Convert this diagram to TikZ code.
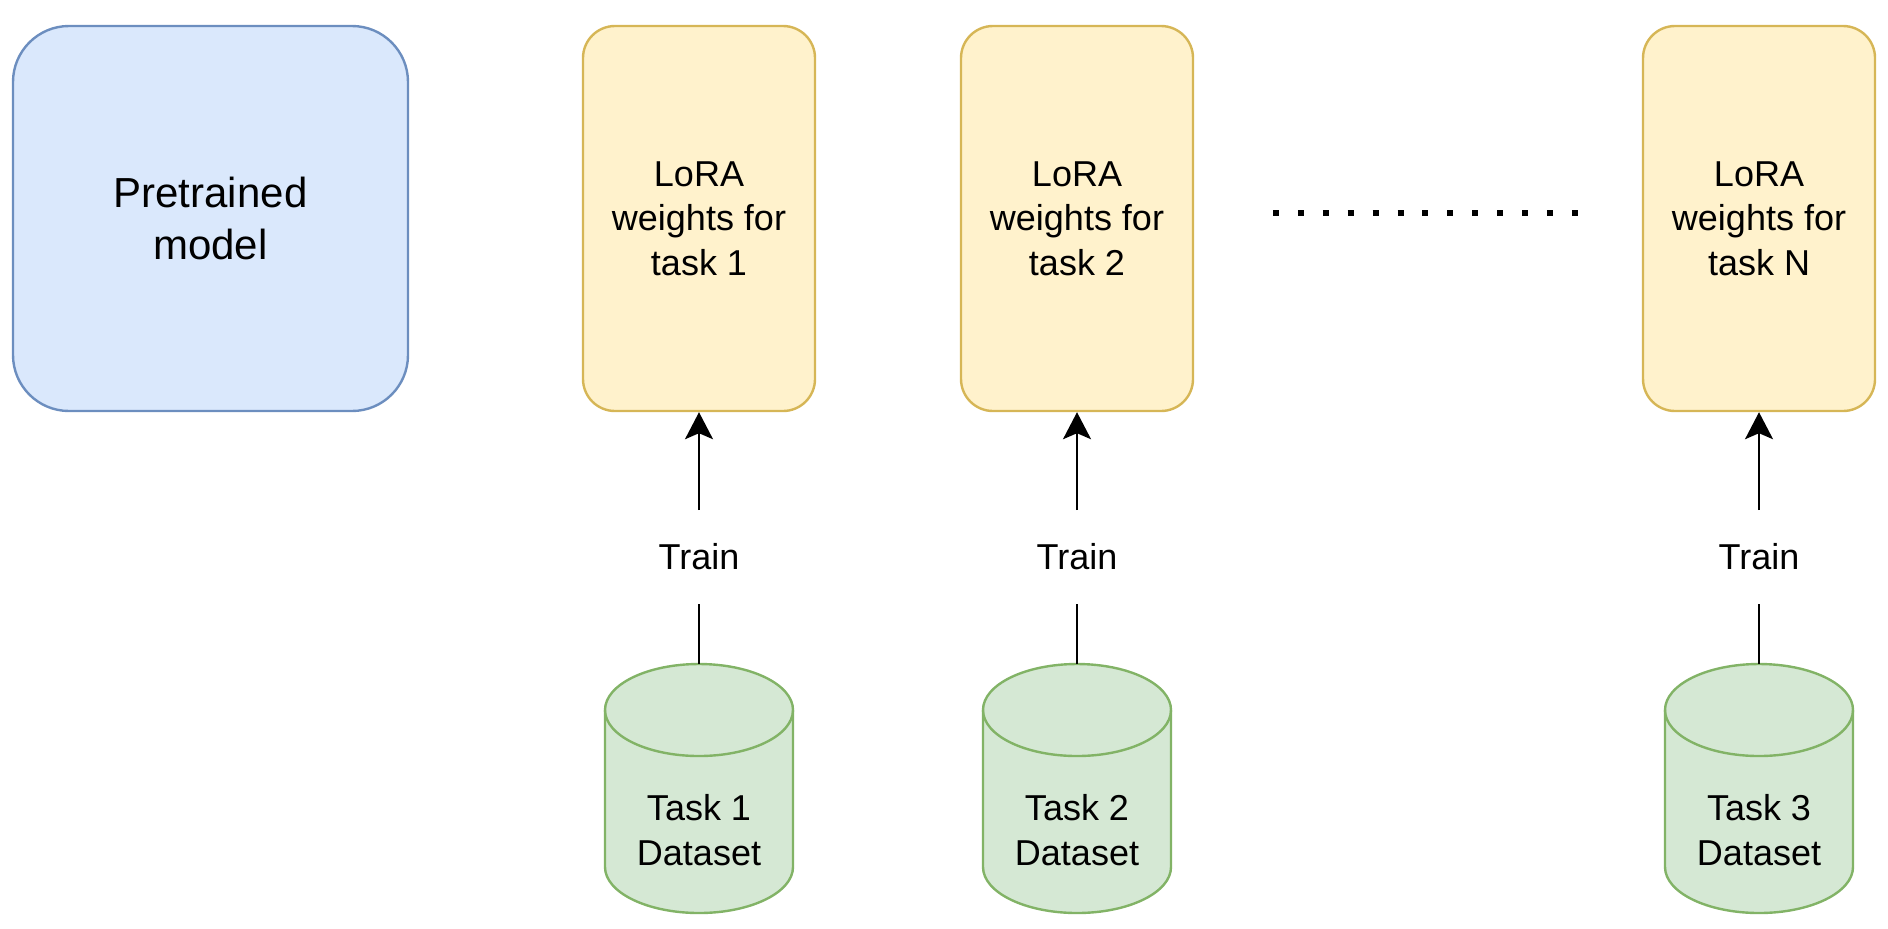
\documentclass[tikz,border=0pt]{standalone}
\usepackage{fontspec}
\setmainfont{Liberation Sans}
\usepackage{tikz}
\usetikzlibrary{arrows.meta, positioning}

\definecolor{preFill}{HTML}{DAE8FC}
\definecolor{preDraw}{HTML}{6C8EBF}
\definecolor{loraFill}{HTML}{FFF2CC}
\definecolor{loraDraw}{HTML}{D6B656}
\definecolor{dataFill}{HTML}{D5E8D4}
\definecolor{dataDraw}{HTML}{82B366}

\begin{document}
\begin{tikzpicture}[x=0.5pt,y=-0.5pt,line width=1pt,>={Stealth[length=13.5pt,width=14pt,inset=3pt]}]
		\tikzstyle{model}=[draw=preDraw,fill=preFill,line width=1.2pt,rounded corners=28pt,minimum width=197.5pt,minimum height=192.5pt,align=center,font=\fontsize{21}{26}\selectfont]
		\tikzstyle{lora}=[draw=loraDraw,fill=loraFill,line width=1.2pt,rounded corners=16pt,minimum width=116pt,minimum height=192.5pt,align=center,font=\fontsize{18}{22.25}\selectfont]
		\tikzstyle{cyl}=[draw=dataDraw,fill=dataFill,line width=1.2pt]
		\tikzstyle{data}=[align=center,inner sep=0pt,font=\fontsize{18}{22.25}\selectfont]
		\tikzstyle{train}=[minimum height=46pt,inner sep=0pt,font=\fontsize{18}{22.25}\selectfont]
		
		\useasboundingbox (0,0) rectangle (1888,928);
		
		\node[model] (pre) at (210.5,218.5) {Pretrained\\model};
		
		\node[lora] (lora_1) at (699,218.5) {LoRA\\weights for\\task 1};
		\node[lora] (lora_2) at (1077,218.5) {LoRA\\weights for\\task 2};
		\node[lora] (lora_N) at (1759,218.5) {LoRA\\weights for\\task N};
		
		\foreach \i/\x/\t in {1/699/1, 2/1077/2, N/1759/3}{
			% dataset cylinder
			\draw[cyl] (\x-94,710) -- (\x-94,867)
				arc[start angle=180,end angle=360,x radius=47pt,y radius=23pt]
				-- (\x+94,710)
				arc[start angle=0,end angle=180,x radius=47pt,y radius=23pt] -- cycle;
			\draw[cyl,fill=none] (\x-94,710) arc[start angle=180,end angle=360,x radius=47pt,y radius=23pt];
			\coordinate (top_\i) at (\x,664);
			\node[data] (data_\i) at (\x,830) {Task \t\\Dataset};
			
			\node[train] (train_\i) at (\x,557) {Train};
			\draw (top_\i) -- (train_\i);
			\draw[->] (train_\i) -- (lora_\i.south);
		}
		
		% dots between task 2 and task N
		\coordinate (dots_a) at (1273,213);
		\coordinate (dots_b) at (1578,213);
		\draw[line width=3pt,dash pattern=on 3pt off 9.45pt] (dots_a) -- (dots_b);
		
	\end{tikzpicture}
\end{document}
